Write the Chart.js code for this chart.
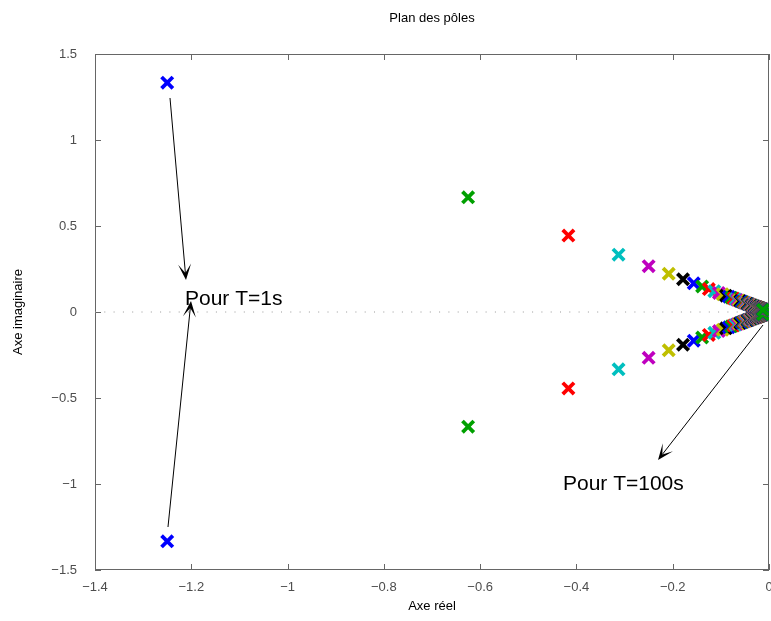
<!DOCTYPE html>
<html>
<head>
<meta charset="utf-8">
<title>Plan des pôles</title>
<script src="https://cdn.jsdelivr.net/npm/chart.js@4/dist/chart.umd.min.js"></script>
<style>
  html, body { margin: 0; padding: 0; background: #fff; }
</style>
</head>
<body>
<canvas id="chart" width="771" height="621"></canvas>
<script>
// Pôles pour T = 1 ... 100 s : partie réelle et partie imaginaire (> 0, le conjugué est tracé aussi)
const pole_re = [
  -1.25, -0.625, -0.4167, -0.3125, -0.25, -0.2083, -0.1786, -0.1563, -0.1389, -0.125,
  -0.1136, -0.1042, -0.0962, -0.0893, -0.0833, -0.0781, -0.0735, -0.0694, -0.0658, -0.0625,
  -0.0595, -0.0568, -0.0543, -0.0521, -0.05, -0.0481, -0.0463, -0.0446, -0.0431, -0.0417,
  -0.0403, -0.0391, -0.0379, -0.0368, -0.0357, -0.0347, -0.0338, -0.0329, -0.0321, -0.0313,
  -0.0305, -0.0298, -0.0291, -0.0284, -0.0278, -0.0272, -0.0266, -0.026, -0.0255, -0.025,
  -0.0245, -0.024, -0.0236, -0.0231, -0.0227, -0.0223, -0.0219, -0.0216, -0.0212, -0.0208,
  -0.0205, -0.0202, -0.0198, -0.0195, -0.0192, -0.0189, -0.0187, -0.0184, -0.0181, -0.0179,
  -0.0176, -0.0174, -0.0171, -0.0169, -0.0167, -0.0164, -0.0162, -0.016, -0.0158, -0.0156,
  -0.0154, -0.0152, -0.0151, -0.0149, -0.0147, -0.0145, -0.0144, -0.0142, -0.014, -0.0139,
  -0.0137, -0.0136, -0.0134, -0.0133, -0.0132, -0.013, -0.0129, -0.0128, -0.0126, -0.0125
];
const pole_im = [
  1.3333, 0.6667, 0.4444, 0.3333, 0.2667, 0.2222, 0.1905, 0.1667, 0.1481, 0.1333,
  0.1212, 0.1111, 0.1026, 0.0952, 0.0889, 0.0833, 0.0784, 0.0741, 0.0702, 0.0667,
  0.0635, 0.0606, 0.058, 0.0556, 0.0533, 0.0513, 0.0494, 0.0476, 0.046, 0.0444,
  0.043, 0.0417, 0.0404, 0.0392, 0.0381, 0.037, 0.036, 0.0351, 0.0342, 0.0333,
  0.0325, 0.0317, 0.031, 0.0303, 0.0296, 0.029, 0.0284, 0.0278, 0.0272, 0.0267,
  0.0261, 0.0256, 0.0252, 0.0247, 0.0242, 0.0238, 0.0234, 0.023, 0.0226, 0.0222,
  0.0219, 0.0215, 0.0212, 0.0208, 0.0205, 0.0202, 0.0199, 0.0196, 0.0193, 0.019,
  0.0188, 0.0185, 0.0183, 0.018, 0.0178, 0.0175, 0.0173, 0.0171, 0.0169, 0.0167,
  0.0165, 0.0163, 0.0161, 0.0159, 0.0157, 0.0155, 0.0153, 0.0152, 0.015, 0.0148,
  0.0147, 0.0145, 0.0143, 0.0142, 0.014, 0.0139, 0.0137, 0.0136, 0.0135, 0.0133
];

// Axe des réels en pointillés
const zero_line = [{x: -1.4, y: 0}, {x: 0, y: 0}];

// Limites des axes
const x_min = -1.4, x_max = 0, x_step = 0.2;
const y_min = -1.5, y_max = 1.5, y_step = 0.5;

// Couleurs successives des tracés (b g r c m y k)
const colors = ['#0000ff', '#00a000', '#ff0000', '#00bfbf', '#bf00bf', '#bfbf00', '#000000'];

// Flèches et textes (coordonnées dans le plan complexe)
const arrows = [
  {from: [-1.2442, 1.2442], to: [-1.211, 0.186]},
  {from: [-1.2484, -1.25], to: [-1.2006, 0.064]},
  {from: [-0.0124, -0.0756], to: [-0.2305, -0.86]}
];
const notes = [
  {text: 'Pour T=1s', at: [-1.2131, 0.041]},
  {text: 'Pour T=100s', at: [-0.428, -1.035]}
];

const font_family = '"Liberation Sans", Arial, Helvetica, sans-serif';

const point_colors = pole_re.map((v, i) => colors[i % colors.length]);
const upper = pole_re.map((v, i) => ({x: v, y: pole_im[i]}));
const lower = pole_re.map((v, i) => ({x: v, y: -pole_im[i]}));

function minus(v) {
  return String(Number(v.toFixed(2))).replace('-', '\u2212');
}

// Cadre et graduations vers l'intérieur
const frame_plugin = {
  id: 'frame',
  beforeDatasetsDraw(chart) {
    const ctx = chart.ctx;
    const a = chart.chartArea;
    const sx = chart.scales.x;
    const sy = chart.scales.y;
    const len = 6;
    ctx.save();
    ctx.strokeStyle = '#666666';
    ctx.lineWidth = 1;
    ctx.strokeRect(Math.round(a.left) + 0.5, Math.round(a.top) + 0.5,
                   Math.round(a.right - a.left) - 1, Math.round(a.bottom - a.top) - 1);
    ctx.beginPath();
    sx.ticks.forEach(t => {
      const px = Math.round(sx.getPixelForValue(t.value)) + 0.5;
      ctx.moveTo(px, a.bottom);
      ctx.lineTo(px, a.bottom - len);
      ctx.moveTo(px, a.top);
      ctx.lineTo(px, a.top + len);
    });
    sy.ticks.forEach(t => {
      const py = Math.round(sy.getPixelForValue(t.value)) + 0.5;
      ctx.moveTo(a.left, py);
      ctx.lineTo(a.left + len, py);
      ctx.moveTo(a.right, py);
      ctx.lineTo(a.right - len, py);
    });
    ctx.stroke();
    ctx.restore();
  }
};

// Flèches et annotations
const notes_plugin = {
  id: 'notes',
  afterDatasetsDraw(chart) {
    const ctx = chart.ctx;
    const sx = chart.scales.x;
    const sy = chart.scales.y;
    ctx.save();
    ctx.strokeStyle = '#000';
    ctx.fillStyle = '#000';
    ctx.lineWidth = 1;

    arrows.forEach(arr => {
      const x0 = sx.getPixelForValue(arr.from[0]);
      const y0 = sy.getPixelForValue(arr.from[1]);
      const x1 = sx.getPixelForValue(arr.to[0]);
      const y1 = sy.getPixelForValue(arr.to[1]);
      const d = Math.hypot(x1 - x0, y1 - y0);
      const ux = (x1 - x0) / d, uy = (y1 - y0) / d;
      const nx = -uy, ny = ux;
      const head = 16, half = 6.5, back = 7;

      ctx.beginPath();
      ctx.moveTo(x0, y0);
      ctx.lineTo(x1 - ux * back, y1 - uy * back);
      ctx.stroke();

      ctx.beginPath();
      ctx.moveTo(x1, y1);
      ctx.lineTo(x1 - ux * head + nx * half, y1 - uy * head + ny * half);
      ctx.lineTo(x1 - ux * back, y1 - uy * back);
      ctx.lineTo(x1 - ux * head - nx * half, y1 - uy * head - ny * half);
      ctx.closePath();
      ctx.fill();
    });

    ctx.font = '21px ' + font_family;
    ctx.textAlign = 'left';
    ctx.textBaseline = 'alphabetic';
    notes.forEach(n => {
      ctx.fillText(n.text, sx.getPixelForValue(n.at[0]), sy.getPixelForValue(n.at[1]));
    });
    ctx.restore();
  }
};

document.addEventListener('DOMContentLoaded', () => {

  const ctx = document.getElementById('chart');

  new Chart(ctx, {
    type: 'scatter',
    data: {
      datasets: [
        {
          label: 'poles +',
          data: upper,
          pointStyle: 'crossRot',
          pointRadius: 8,
          pointBorderWidth: 3.8,
          pointBorderColor: point_colors,
          pointBackgroundColor: point_colors,
          order: 1
        },
        {
          label: 'poles -',
          data: lower,
          pointStyle: 'crossRot',
          pointRadius: 8,
          pointBorderWidth: 3.8,
          pointBorderColor: point_colors,
          pointBackgroundColor: point_colors,
          order: 1
        },
        {
          type: 'line',
          label: 'axe reel',
          data: zero_line,
          borderColor: '#999999',
          borderWidth: 1,
          borderDash: [1, 8.3],
          pointRadius: 0,
          fill: false,
          order: 5
        }
      ]
    },
    options: {
      responsive: false,
      animation: false,
      events: [],
      layout: {
        autoPadding: false,
        padding: {left: 0, right: 2, top: 0, bottom: 0}
      },
      plugins: {
        legend: {display: false},
        tooltip: {enabled: false},
        title: {
          display: true,
          text: 'Plan des pôles',
          fullSize: false,
          color: '#000',
          font: {family: font_family, size: 13, weight: 'normal'},
          padding: {top: 11, bottom: 27.4}
        }
      },
      scales: {
        x: {
          type: 'linear',
          min: x_min,
          max: x_max,
          grid: {display: false},
          border: {display: false},
          ticks: {
            stepSize: x_step,
            color: '#4d4d4d',
            padding: 2,
            maxRotation: 0,
            font: {family: font_family, size: 13},
            callback: v => minus(v)
          },
          title: {
            display: true,
            text: 'Axe réel',
            color: '#000',
            font: {family: font_family, size: 13},
            padding: {top: 0, bottom: 7}
          },
          afterFit: s => {
            s.height = 51;
            s.paddingLeft = 0;
            s.paddingRight = 0;
          }
        },
        y: {
          type: 'linear',
          min: y_min,
          max: y_max,
          grid: {display: false},
          border: {display: false},
          ticks: {
            stepSize: y_step,
            color: '#4d4d4d',
            padding: 10,
            font: {family: font_family, size: 13},
            callback: v => minus(v)
          },
          title: {
            display: true,
            text: 'Axe imaginaire',
            color: '#000',
            font: {family: font_family, size: 13},
            padding: {top: 11, bottom: 0}
          },
          afterFit: s => {
            s.width = 95;
            s.paddingTop = 0;
            s.paddingBottom = 0;
          }
        }
      }
    },
    plugins: [frame_plugin, notes_plugin]
  });
});
</script>
</body>
</html>
